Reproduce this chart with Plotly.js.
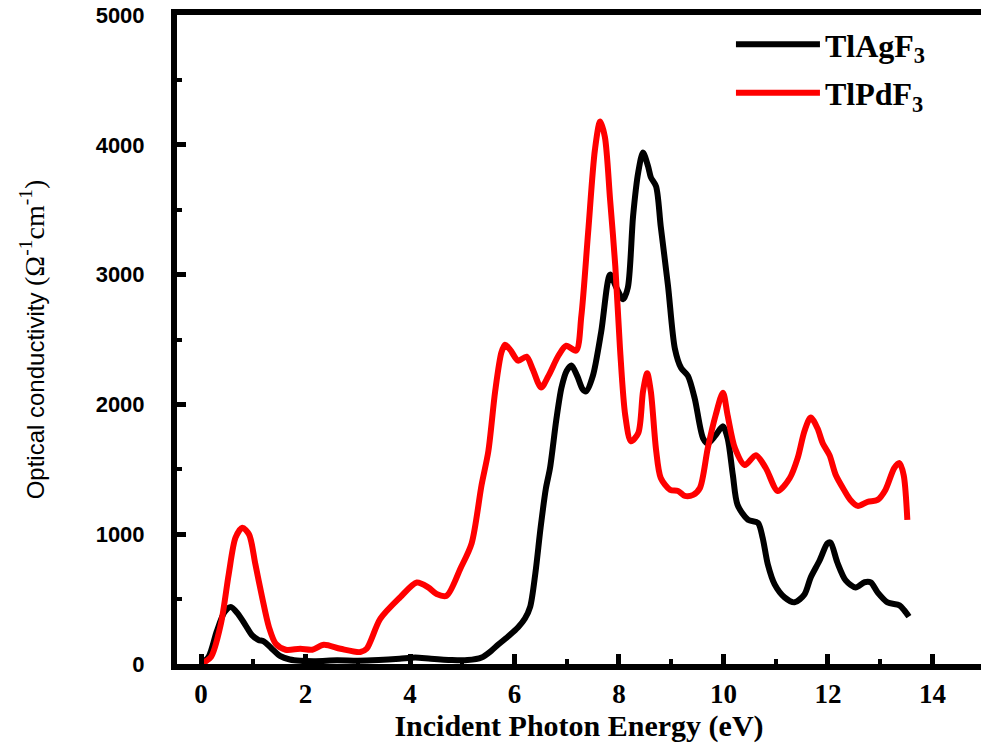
<!DOCTYPE html>
<html>
<head>
<meta charset="utf-8">
<script src="https://cdn.plot.ly/plotly-3.0.1.min.js"></script>
<style>
html,body{margin:0;padding:0;overflow:hidden;background:#fff;}
#chart{width:981px;height:743px;}
</style>
</head>
<body>
<div id="chart"></div>
<script>
// TlAgF3 optical conductivity
const energyAg = [0,0.15,0.3,0.45,0.57,0.7,0.85,0.98,1.1,1.2,1.35,1.52,1.7,1.9,2.2,2.6,3.0,3.4,3.8,4.1,4.4,4.8,5.1,5.37,5.55,5.69,5.9,6.07,6.2,6.3,6.4,6.5,6.6,6.68,6.8,6.9,7.0,7.09,7.2,7.3,7.37,7.5,7.66,7.83,7.95,8.08,8.17,8.27,8.37,8.46,8.56,8.61,8.71,8.8,8.94,9.07,9.19,9.32,9.45,9.61,9.7,9.85,9.99,10.08,10.18,10.27,10.47,10.66,10.75,10.85,10.98,11.17,11.36,11.55,11.67,11.84,11.99,12.05,12.18,12.34,12.53,12.7,12.82,12.95,13.14,13.37,13.46,13.55];
const sigmaAg = [0,60,250,400,440,390,300,220,185,175,120,60,35,25,22,28,25,30,40,50,40,30,30,50,100,150,220,283,350,440,700,1050,1350,1510,1880,2130,2260,2300,2220,2120,2100,2220,2560,3000,2900,2810,2900,3450,3790,3940,3830,3750,3680,3370,2910,2430,2280,2220,2046,1739,1700,1762,1831,1739,1456,1226,1111,1088,973,766,613,513,475,536,667,797,930,935,782,644,590,630,628,552,475,452,414,365];
// TlPdF3 optical conductivity
const energyPd = [0,0.19,0.38,0.53,0.66,0.79,0.92,1.04,1.17,1.3,1.43,1.62,1.9,2.13,2.35,2.67,3.05,3.17,3.43,3.81,4.13,4.35,4.51,4.7,4.97,5.18,5.37,5.5,5.63,5.75,5.82,5.92,6.07,6.23,6.35,6.51,6.65,6.84,6.99,7.18,7.28,7.41,7.54,7.64,7.73,7.83,7.93,8.02,8.12,8.23,8.37,8.46,8.54,8.61,8.71,8.8,8.98,9.13,9.26,9.42,9.55,9.7,9.85,9.99,10.08,10.22,10.41,10.62,10.81,11.04,11.27,11.42,11.55,11.67,11.8,11.9,12.03,12.15,12.32,12.43,12.57,12.76,12.95,13.1,13.27,13.37,13.45,13.52];
const sigmaPd = [0,54,309,692,973,1050,998,769,513,284,156,110,117,110,148,117,92,117,347,513,628,590,539,526,740,930,1379,1640,2100,2400,2460,2420,2337,2368,2270,2130,2220,2375,2452,2414,2682,3326,3962,4180,4061,3579,3065,2429,1916,1716,1780,2100,2240,2100,1650,1433,1341,1333,1295,1303,1356,1663,1916,2090,1916,1663,1533,1609,1510,1333,1433,1586,1793,1900,1816,1701,1609,1456,1333,1264,1218,1249,1264,1341,1510,1548,1456,1111];
const seriesNames = ['TlAgF<sub>3</sub>', 'TlPdF<sub>3</sub>'];
const xTickVals = [0,2,4,6,8,10,12,14];
const yTickVals = [0,1000,2000,3000,4000,5000];

const serif = '"Liberation Serif", "Times New Roman", serif';
const sans = '"Liberation Sans", Arial, sans-serif';

const traces = [
  {x: energyAg, y: sigmaAg, name: '<b>' + seriesNames[0] + '</b>', legendgroup: 'a', type: 'scatter', mode: 'lines',
   line: {color: '#000000', width: 6, shape: 'spline', smoothing: 0.8}},
  {x: energyPd, y: sigmaPd, name: '<b>' + seriesNames[1] + '</b>', legendgroup: 'b', type: 'scatter', mode: 'lines',
   line: {color: '#ff0000', width: 6, shape: 'spline', smoothing: 0.8}}
];

const layout = {
  width: 981, height: 743,
  margin: {l: 177, r: 0, t: 15, b: 79},
  paper_bgcolor: '#ffffff', plot_bgcolor: '#ffffff',
  showlegend: true,
  legend: {x: 0.689, y: 0.997, xanchor: 'left', yanchor: 'top', traceorder: 'grouped',
           font: {family: serif, size: 32, color: '#000'}, itemwidth: 84,
           bgcolor: 'rgba(0,0,0,0)', tracegroupgap: 4},
  xaxis: {
    range: [-0.46, 14.93], tickvals: xTickVals, ticktext: xTickVals.map(v => '<b>' + v + '</b>'),
    showgrid: false, zeroline: false,
    showline: true, linecolor: '#000', linewidth: 6, mirror: true,
    ticks: 'inside', ticklen: 10, tickwidth: 5, tickcolor: '#000',
    minor: {ticks: 'inside', dtick: 1, ticklen: 5, tickwidth: 4, tickcolor: '#000', showgrid: false},
    tickfont: {family: serif, size: 27, color: '#000'},
    ticklabelstandoff: 1,
    title: {text: '<b>Incident Photon Energy (eV)</b>', font: {family: serif, size: 30, color: '#000'}, standoff: 3}
  },
  yaxis: {
    range: [0, 5000], tickvals: yTickVals, ticktext: yTickVals.map(v => '<b>' + v + '</b>'),
    showgrid: false, zeroline: false,
    showline: true, linecolor: '#000', linewidth: 6, mirror: false,
    ticks: 'inside', ticklen: 9, tickwidth: 5, tickcolor: '#000',
    minor: {ticks: 'inside', dtick: 500, ticklen: 5, tickwidth: 4, tickcolor: '#000', showgrid: false},
    tickfont: {family: sans, size: 22, color: '#000'},
    ticklabelstandoff: 22,
    title: {text: 'Optical conductivity <span style="font-family:\'Liberation Serif\',serif;font-size:28px">(Ω<sup>-1</sup>cm<sup>-1</sup>)</span>',
            font: {family: sans, size: 24, color: '#000'}, standoff: 46}
  }
};

Plotly.newPlot('chart', traces, layout, {displayModeBar: false, staticPlot: true});
</script>
</body>
</html>
